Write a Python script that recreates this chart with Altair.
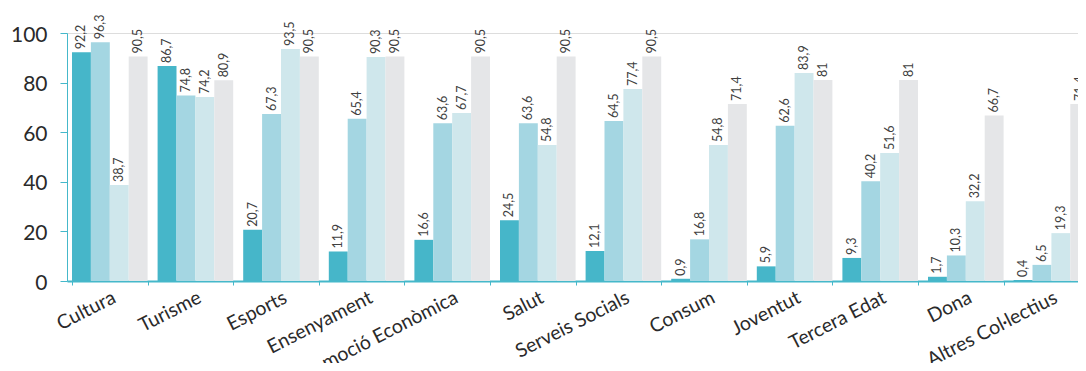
import altair as alt
import pandas as pd

categories = ["Cultura", "Turisme", "Esports", "Ensenyament", "Promoció Econòmica",
              "Salut", "Serveis Socials", "Consum", "Joventut", "Tercera Edat",
              "Dona", "Altres Col·lectius"]
series = ["S1", "S2", "S3", "S4"]
s1 = [92.2, 86.7, 20.7, 11.9, 16.6, 24.5, 12.1, 0.9, 5.9, 9.3, 1.7, 0.4]
s2 = [96.3, 74.8, 67.3, 65.4, 63.6, 63.6, 64.5, 16.8, 62.6, 40.2, 10.3, 6.5]
s3 = [38.7, 74.2, 93.5, 90.3, 67.7, 54.8, 77.4, 54.8, 83.9, 51.6, 32.2, 19.3]
s4 = [90.5, 80.9, 90.5, 90.5, 90.5, 90.5, 90.5, 71.4, 81, 81, 66.7, 71.4]
colors = ["#46b6c9", "#a4d6e2", "#cfe7ec", "#e5e6e8"]

rows = []
for vals, s in zip([s1, s2, s3, s4], series):
    for c, v in zip(categories, vals):
        rows.append({"cat": c, "series": s, "value": v,
                     "label": f"{v:g}".replace(".", ",")})
df = pd.DataFrame(rows)

FONT = "Lato"
step = 85.6
pin = 10 / step

x = alt.X("cat:N", sort=categories, title=None,
          scale=alt.Scale(range=[0, step * 12], paddingInner=pin, paddingOuter=pin / 2),
          axis=alt.Axis(labelAngle=-27, labelAlign="right", labelBaseline="top",
                        labelFont=FONT, labelFontSize=19.5, labelColor="#2a2a2a",
                        labelPadding=3, domainColor="#45b8ca", domainWidth=2,
                        tickColor="#45b8ca", tickSize=4, tickBand="extent",
                        labelOverlap=False, labelLimit=0))
xo = alt.XOffset("series:N", sort=series,
                 scale=alt.Scale(paddingInner=0, paddingOuter=0))
y = alt.Y("value:Q", stack=None, title=None,
          scale=alt.Scale(domain=[0, 100], nice=False),
          axis=alt.Axis(values=[0, 20, 40, 60, 80, 100], grid=False,
                        labelFont=FONT, labelFontSize=21, labelColor="#2a2a2a",
                        labelPadding=13, labelOffset=2,
                        domainColor="#45b8ca", tickColor="#45b8ca", tickSize=7))

bars = alt.Chart(df).mark_bar().encode(
    x=x, xOffset=xo, y=y,
    color=alt.Color("series:N", sort=series,
                    scale=alt.Scale(domain=series, range=colors), legend=None),
)
labels = alt.Chart(df).mark_text(angle=270, align="left", baseline="middle", dx=3,
                                 font=FONT, fontSize=12.5, color="#404040").encode(
    x=x, xOffset=xo, y=y, text="label:N")

chart = alt.layer(bars, labels).properties(
    width=1011, height=248,
    autosize=alt.AutoSizeParams(type="none"),
    padding={"left": 59, "top": 25, "right": 0, "bottom": 82},
).configure_view(stroke=None).configure(background="white")

chart.save("out.html", embed_options={"renderer": "svg", "actions": False})
